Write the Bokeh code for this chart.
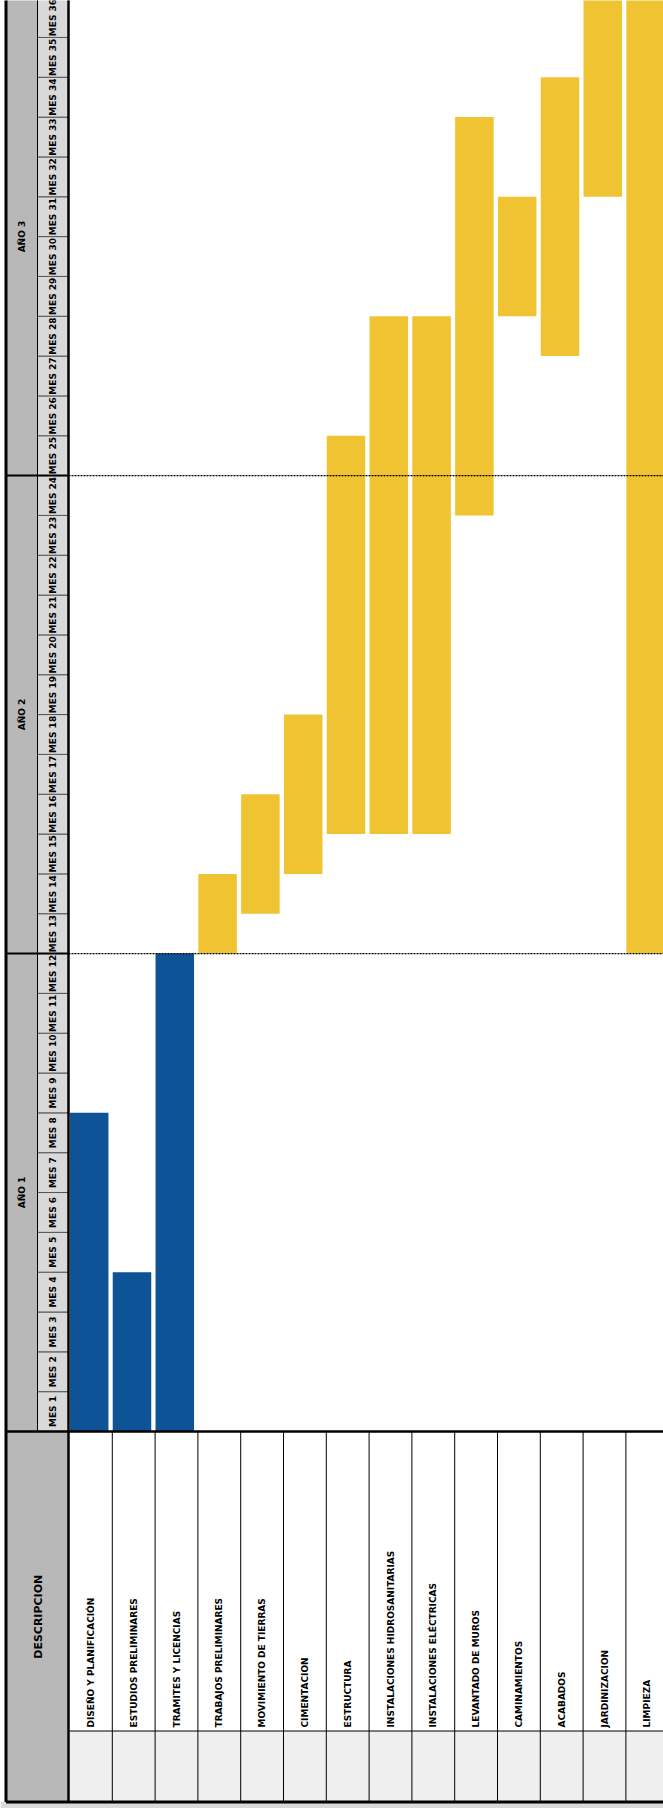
import math
from bokeh.plotting import figure
from bokeh.models import Range1d, ColumnDataSource
from bokeh.core.properties import value
from bokeh.embed import file_html
from bokeh.resources import INLINE

# ---------------- data ----------------
tasks = ["DISEÑO Y PLANIFICACIÓN", "ESTUDIOS PRELIMINARES", "TRAMITES Y LICENCIAS",
         "TRABAJOS PRELIMINARES", "MOVIMIENTO DE TIERRAS", "CIMENTACION", "ESTRUCTURA",
         "INSTALACIONES HIDROSANITARIAS", "INSTALACIONES ELÉCTRICAS", "LEVANTADO DE MUROS",
         "CAMINAMIENTOS", "ACABADOS", "JARDINIZACION", "LIMPIEZA"]
start_month = [1, 1, 1, 13, 14, 15, 16, 16, 16, 24, 29, 28, 32, 13]
end_month = [8, 4, 12, 14, 16, 18, 25, 28, 28, 33, 31, 34, 36, 36]
bar_colors = ["#0e5396", "#0e5396", "#0e5396"] + ["#f0c332"] * 11
month_labels = ["MES %d" % m for m in range(1, 37)]
year_labels = ["AÑO 1", "AÑO 2", "AÑO 3"]
header_title = "DESCRIPCION"

# ---------------- geometry (pixel -> data helpers) ----------------
COL_W = 42.8
MONTH_H = 39.83
W, H = 663, 1808

def ux(xref):
    return (xref - 69.0) / COL_W

def vy(yref):
    return (1431.0 - yref) / MONTH_H

x0 = ux(0)
x1 = x0 + W / COL_W
y1 = vy(0)
y0 = y1 - H / MONTH_H

p = figure(width=W, height=H, x_range=Range1d(x0, x1), y_range=Range1d(y0, y1),
           output_backend="svg", toolbar_location=None, min_border=0,
           x_axis_type=None, y_axis_type=None)
p.grid.visible = False
p.outline_line_color = None
p.background_fill_color = "white"
p.border_fill_color = "white"

FONT = value("DejaVu Sans")
x_left = ux(5.5)
x_year_r = ux(37)
x_mon_r = ux(68)
v_gray_top = vy(1730.5)
v_bottom = vy(1801.5)
ntask = len(tasks)

# ---------------- bottom table ----------------
p.quad(left=[x_left], right=[x_mon_r], bottom=[v_bottom], top=[0], fill_color="#b8b8b8", line_color=None)
p.quad(left=[0], right=[ntask + 1], bottom=[v_bottom], top=[v_gray_top], fill_color="#efefef", line_color=None)
p.quad(left=[x0], right=[x1], bottom=[y0 - 1], top=[v_bottom], fill_color="#d9d9d9", line_color=None)
p.segment(x0=list(range(1, ntask + 1)), y0=[0] * ntask, x1=list(range(1, ntask + 1)), y1=[v_bottom] * ntask,
          line_color="black", line_width=1)
p.segment(x0=[0], y0=[v_gray_top], x1=[ntask + 1], y1=[v_gray_top], line_color="black", line_width=1)

# ---------------- header (years + months) ----------------
p.quad(left=[x_left] * 3, right=[x_year_r] * 3, bottom=[0, 12, 24], top=[12, 24, 36],
       fill_color="#b8b8b8", line_color=None)
p.quad(left=[x_year_r] * 36, right=[x_mon_r] * 36, bottom=list(range(0, 36)), top=list(range(1, 37)),
       fill_color="#d9d9d9", line_color="#555555", line_width=1)
p.segment(x0=[x_year_r], y0=[0], x1=[x_year_r], y1=[y1 + 1], line_color="black", line_width=1)
p.segment(x0=[x_left, x_left], y0=[12, 24], x1=[x_mon_r, x_mon_r], y1=[12, 24], line_color="black", line_width=2)

# ---------------- bars ----------------
src = ColumnDataSource(dict(
    left=[i + 0.01 for i in range(ntask)],
    right=[i + 0.91 for i in range(ntask)],
    bottom=[s - 1 for s in start_month],
    top=[e for e in end_month],
    color=bar_colors,
))
p.quad(left="left", right="right", bottom="bottom", top="top", fill_color="color", line_color=None, source=src)

# year boundary dotted lines (drawn over the bars)
p.segment(x0=[x_mon_r, x_mon_r], y0=[12, 24], x1=[x1, x1], y1=[12, 24], line_color="black",
          line_width=1.2, line_dash="2 1")

# ---------------- frame lines ----------------
p.segment(x0=[x_left], y0=[0], x1=[x1], y1=[0], line_color="black", line_width=2.5)
p.segment(x0=[x_mon_r], y0=[v_bottom], x1=[x_mon_r], y1=[y1 + 1], line_color="black", line_width=2.5)
p.segment(x0=[x_left], y0=[v_bottom], x1=[x1], y1=[v_bottom], line_color="black", line_width=3)
p.segment(x0=[x_left], y0=[v_bottom], x1=[x_left], y1=[y1 + 1], line_color="black", line_width=3)

# ---------------- texts ----------------
p.text(x=[(x_year_r + x_mon_r) / 2] * 36, y=[m + 0.5 for m in range(36)], text=month_labels,
       angle=math.pi / 2, text_font=FONT, text_font_style="bold", text_font_size="9px",
       text_align="center", text_baseline="middle", text_color="black")
p.text(x=[ux(21.5)] * 3, y=[6, 18, 30], text=year_labels,
       angle=math.pi / 2, text_font=FONT, text_font_style="bold", text_font_size="9px",
       text_align="center", text_baseline="middle", text_color="black")
p.text(x=[ux(37.5)], y=[(0 + v_bottom) / 2], text=[header_title],
       angle=math.pi / 2, text_font=FONT, text_font_style="bold", text_font_size="11px",
       text_align="center", text_baseline="middle", text_color="black")
p.text(x=[i + 0.5 for i in range(ntask)], y=[vy(1727)] * ntask, text=tasks,
       angle=math.pi / 2, text_font=FONT, text_font_style="bold", text_font_size="9px",
       text_align="left", text_baseline="middle", text_color="black")

open("out.html", "w").write(file_html(p, INLINE))
